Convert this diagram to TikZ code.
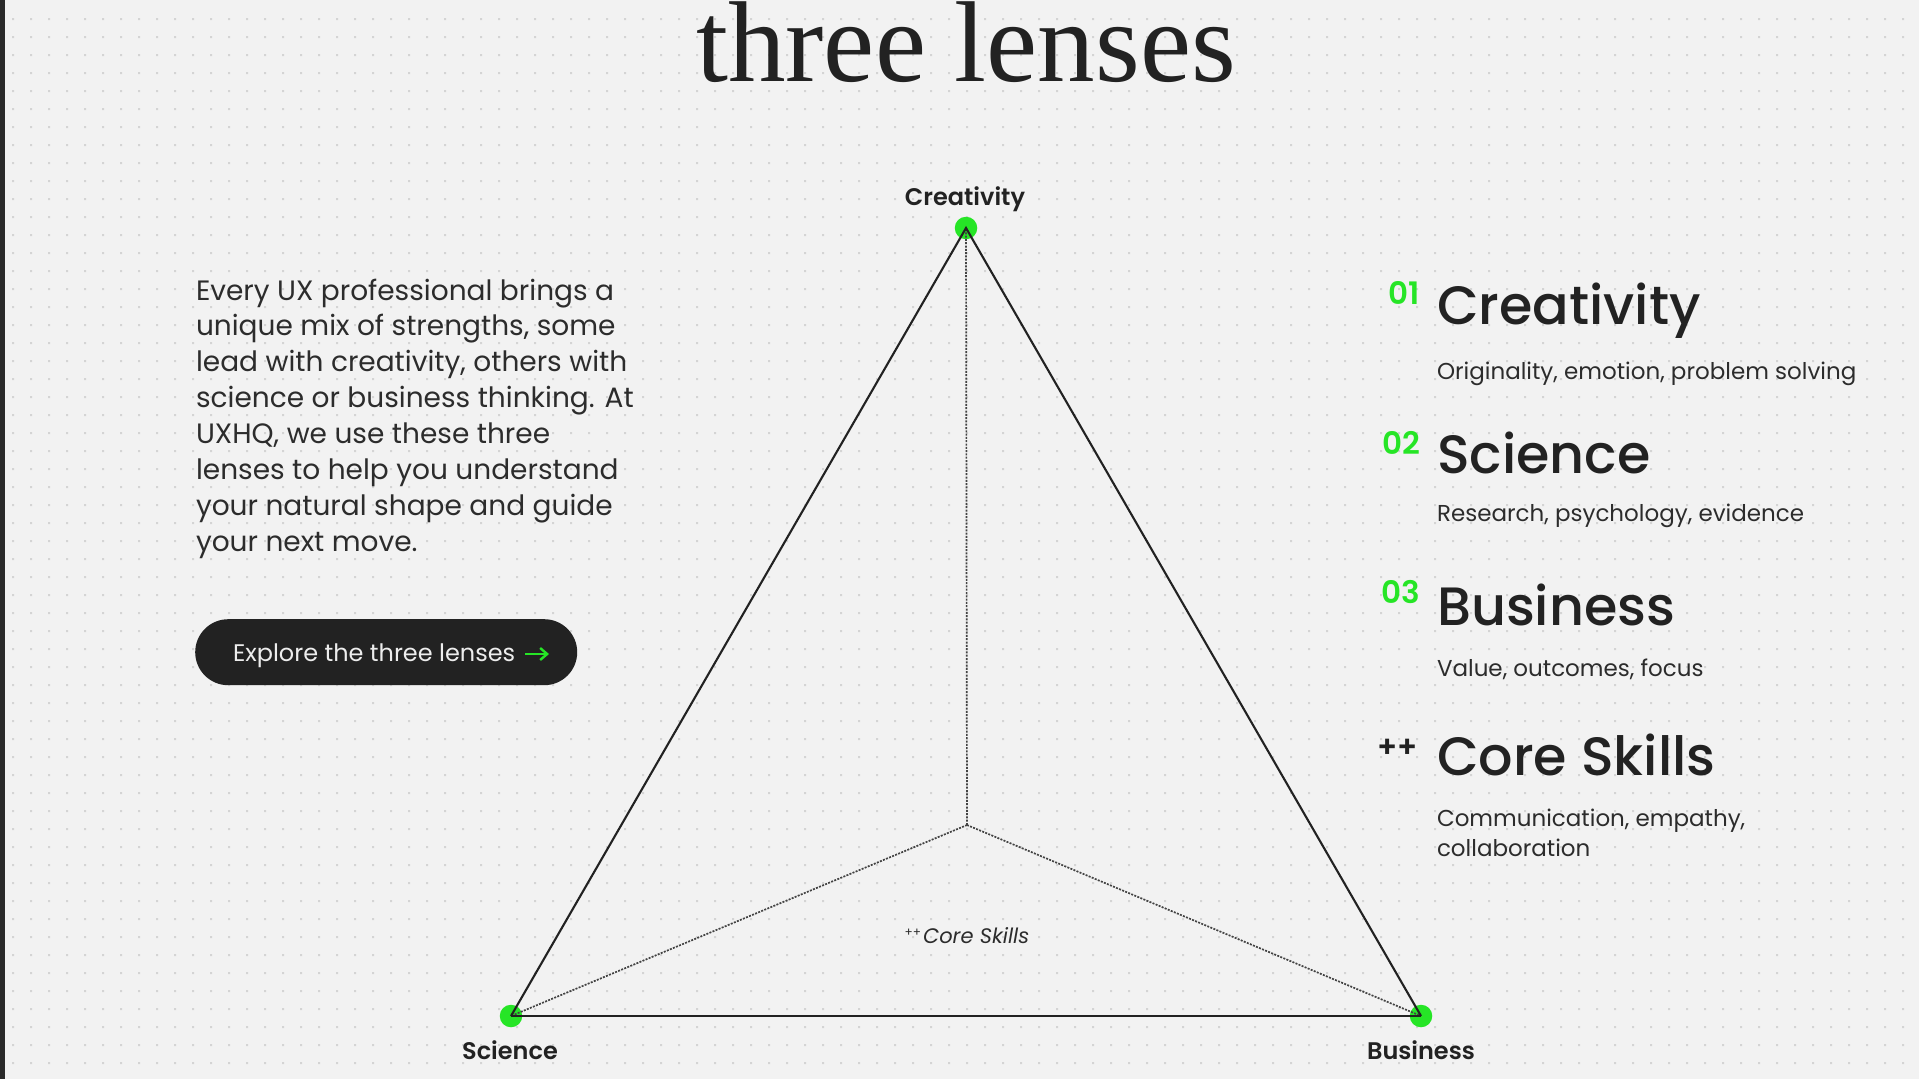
\documentclass[tikz,border=0pt]{standalone}
\usepackage{fontspec}
\setmainfont{Poppins}
\newfontfamily\medfont{Poppins Medium}
\newfontfamily\semifont{Poppins SemiBold}
\newfontfamily\seriffont{Liberation Serif}
\usetikzlibrary{arrows.meta}

\definecolor{pagebg}{HTML}{F2F2F2}
\definecolor{griddot}{HTML}{D4D4D4}
\definecolor{ink}{HTML}{222222}
\definecolor{softink}{HTML}{2C2C2C}
\definecolor{lime}{RGB}{38,229,38}
\definecolor{edgebar}{HTML}{2A2A2A}
\definecolor{btnfill}{HTML}{222222}
\definecolor{btntext}{HTML}{EDEDED}

\newcommand{\fsz}[1]{\fontsize{#1}{#1}\selectfont}

\begin{document}
\begin{tikzpicture}[x=1pt,y=-1pt,
  txt/.style={inner sep=0pt, outer sep=0pt, text=ink},
  bodytext/.style={txt, font=\fsz{28}, text=softink, anchor=base west},
  vertexlabel/.style={txt, font=\semifont\fsz{24}, anchor=base},
  lensnum/.style={txt, font=\semifont\fsz{31}, text=lime, anchor=base east},
  lenshead/.style={txt, font=\medfont\fsz{54}, anchor=base west},
  lenssub/.style={txt, font=\fsz{23}, text=softink, anchor=base west},
  vertexdot/.style={circle, fill=lime, minimum size=22.5pt, inner sep=0pt},
  edge/.style={draw=ink, line width=2.1pt, line join=miter},
  spoke/.style={draw=ink!85, line width=1.7pt, dash pattern=on 2pt off 1.3pt},
]
% page and dotted grid
\useasboundingbox (0,0) rectangle (1919,1079);
\fill[pagebg] (0,0) rectangle (1919,1079);
\foreach \i in {0,...,105}{
  \pgfmathsetmacro{\gx}{13+18*\i}
  \fill[griddot] \foreach \j in {0,...,58}{
    (\gx-1,18+18*\j) rectangle ++(2,2)};
}
\fill[edgebar] (0,0) rectangle (5,1079);

% heading
\node[txt, font=\seriffont\fsz{115}, anchor=base] (title) at (966,81.5) {three lenses};

% intro paragraph
\foreach \t [count=\k from 0] in {
  {Every UX professional brings a},
  {unique mix of strengths, some},
  {lead with creativity, others with},
  {science or business thinking. At},
  {UXHQ, we use these three},
  {lenses to help you understand},
  {your natural shape and guide},
  {your next move.}}
  \node[bodytext] (para\k) at (196,300+35.9*\k) {\t};

% call-to-action button
\node[draw=none, fill=btnfill, rounded corners=33pt, minimum width=382pt,
      minimum height=66pt, inner sep=0pt, anchor=north west] (button) at (195,619) {};
\node[txt, text=btntext, font=\fsz{24}, anchor=base west] (buttontext) at (233,661.5)
  {Explore the three lenses};
\coordinate (arrowtail) at (525,654);
\coordinate (arrowhead) at (549,654);
\draw[lime, line width=2.4pt, -{Straight Barb[length=7pt, width=12pt, line width=2.4pt]}]
  (arrowtail) -- (arrowhead);

% triangle of the three lenses
\node[vertexdot] (creativity) at (966,228) {};
\node[vertexdot] (science) at (511,1016) {};
\node[vertexdot] (business) at (1421,1016) {};
\coordinate (core) at (967,825);

\draw[spoke] (core) -- (creativity.center);
\draw[spoke] (core) -- (science.center);
\draw[spoke] (core) -- (business.center);
\draw[edge] (science.center) -- (creativity.center) -- (business.center);
\draw[edge, line width=2.7pt] (science.center) -- (business.center);

\node[vertexlabel] (creativitylabel) at (965,205) {Creativity};
\node[vertexlabel] (sciencelabel) at (510,1059) {Science};
\node[vertexlabel] (businesslabel) at (1421,1059) {Business};
\node[txt, text=softink, anchor=base] (corelabel) at (967,943)
  {\fsz{12}\raisebox{7pt}{++}\,\fsz{21}\itshape Core Skills};

% lens list
\node[lensnum] (num1) at (1420,304) {01};
\node[lenshead] (head1) at (1437,324) {Creativity};
\node[lenssub] (sub1) at (1437,379.5) {Originality, emotion, problem solving};

\node[lensnum] (num2) at (1420,454) {02};
\node[lenshead] (head2) at (1437,473.5) {Science};
\node[lenssub] (sub2) at (1437,521.5) {Research, psychology, evidence};

\node[lensnum] (num3) at (1420,603.5) {03};
\node[lenshead] (head3) at (1437,625) {Business};
\node[lenssub] (sub3) at (1437,676.5) {Value, outcomes, focus};

\node[lensnum, text=ink, font=\semifont\fsz{30}] (num4) at (1418,757) {++};
\node[lenshead] (head4) at (1437,775) {Core Skills};
\node[lenssub] (sub4a) at (1437,826.5) {Communication, empathy,};
\node[lenssub] (sub4b) at (1437,856) {collaboration};
\end{tikzpicture}
\end{document}
